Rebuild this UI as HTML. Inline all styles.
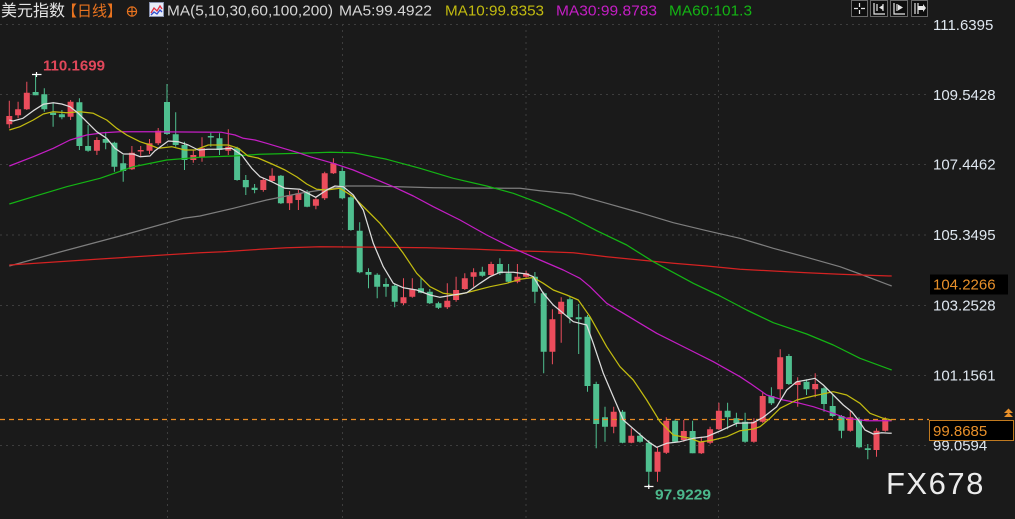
<!DOCTYPE html>
<html><head><meta charset="utf-8"><style>
html,body{margin:0;padding:0;background:#1a1a1a;width:1015px;height:519px;overflow:hidden}
svg{display:block}
text{font-family:"Liberation Sans","Noto Sans CJK SC",sans-serif}
</style></head><body>
<svg width="1015" height="519" viewBox="0 0 1015 519" xmlns="http://www.w3.org/2000/svg">
<rect width="1015" height="519" fill="#1a1a1a"/>
<!-- grid -->
<g stroke="#3d3d3d" stroke-width="1" stroke-dasharray="2,4" fill="none">
<path d="M0 24.5H928M0 94.5H928M0 164.5H928M0 235H928M0 305.5H928M0 375.5H928M0 445.5H928"/>
<path d="M167.5 24V519M342.5 24V519M526 24V519M718.5 24V519"/>
</g>
<!-- red candles -->
<g stroke="#eb4d5c" stroke-width="1" fill="none">
<path d="M9.3 100.7V128.3M18.1 101.7V118.3M26.8 81.7V110M70.6 100V120M96.9 137.3V155M131.9 146V170M140.7 146V156M149.5 139V154M158.2 128V145M193.3 150V162.7M202 137.3V161.7M228.3 129.3V155M263.3 178V191.7M272.1 168.3V181.7M289.6 191V210M298.4 190V210M315.9 196.7V209.3M324.7 171.7V200M333.4 158.3V174M403.5 278.3V305M412.3 278.3V297.7M447.3 283.3V309M456.1 276.7V301.7M464.8 273.3V290M473.6 268.3V286.7M491.1 261.7V275.7M517.4 264V283.3M526.1 270.7V277.7M552.4 309.3V364.3M561.2 297.3V342.7M613.7 406.7V433.3M631.3 428.3V443.3M657.5 446.7V481.7M666.3 417.3V454M683.8 420V441.7M701.3 436.7V454M710.1 426.7V444.3M718.9 402.7V430M753.9 418.3V442.7M762.7 391.7V422.7M780.2 349.3V398.3M797.7 377.3V406.7M815.2 373.3V397.3M850.3 410.7V431.7M876.5 428.3V456.7M885.3 417.3V431.7"/>
</g>
<path fill="#eb4d5c" d="M6.3 116h6v8.3h-6zM15.1 109.3h6v6h-6zM23.8 92.7h6v16.6h-6zM67.6 101.7h6v15h-6zM93.9 140h6v10.7h-6zM128.9 152.7h6v16.6h-6zM137.7 150h6v1.5h-6zM146.5 143.3h6v7.4h-6zM155.2 130.7h6v12.6h-6zM190.3 155h6v5h-6zM199 148.3h6v9h-6zM225.3 146.7h6v4h-6zM260.3 180h6v10h-6zM269.1 175.7h6v5.3h-6zM286.6 195h6v8.3h-6zM295.4 193.3h6v6.7h-6zM312.9 199.3h6v6.4h-6zM321.7 173.3h6v25h-6zM330.4 163.3h6v10h-6zM400.5 297.3h6v6h-6zM409.3 289h6v7.7h-6zM444.3 300.7h6v6.6h-6zM453.1 290h6v10h-6zM461.8 278.3h6v10.7h-6zM470.6 272.3h6v4.4h-6zM488.1 264h6v11h-6zM514.4 276.7h6v5h-6zM523.1 273.3h6v3.4h-6zM549.4 319.3h6v32.4h-6zM558.2 301.7h6v12.3h-6zM610.7 411.7h6v15h-6zM628.3 435.7h6v7h-6zM654.5 451.7h6v20h-6zM663.3 420.7h6v32h-6zM680.8 431h6v9h-6zM698.3 441.7h6v11.6h-6zM707.1 429.3h6v13.4h-6zM715.9 410.7h6v18.6h-6zM750.9 421.7h6v20h-6zM759.7 396h6v25.7h-6zM777.2 357.3h6v32h-6zM794.7 381.7h6v3.3h-6zM812.2 384h6v5.3h-6zM847.3 417.3h6v13.4h-6zM873.5 430.7h6v19.3h-6zM882.3 420.7h6v10h-6z"/>
<!-- green candles -->
<g stroke="#4fbf8f" stroke-width="1" fill="none">
<path d="M35.6 74V95.3M44.3 88.3V111.7M53.1 103V126.7M61.9 110V119.3M79.4 98.3V150M88.1 125V151.7M105.7 131.7V149.3M114.4 141.7V171.7M123.2 155V181.7M167 84V135M175.7 112.3V146.7M184.5 141.7V170M210.8 132.7V146.7M219.5 133.3V155M237.1 146.7V180.7M245.8 175V195M254.6 184V193.3M280.9 175V204M307.1 190V207.3M342.2 167.3V199M350.9 195V230.7M359.7 222.3V273.3M368.5 268.3V288.3M377.2 273.3V298.3M386 278.3V296.7M394.7 283.3V307.3M421 278.3V293.3M429.8 289V304M438.5 301.7V309M482.3 266.7V276.7M499.9 258.3V275M508.6 264V283.3M534.9 272V303.3M543.7 291.7V373.3M569.9 297.3V323.3M578.7 304V354M587.5 315V391.7M596.2 381.7V448.3M605 406.7V441.7M622.5 410V443.3M640 432.7V442.7M648.8 440V486.7M675.1 419.3V442.7M692.6 420.7V453.3M727.6 402.7V429.3M736.4 412.7V426.7M745.1 412.7V442.7M771.4 387.3V405M788.9 354V385M806.5 379.3V395M824 387.3V411.7M832.7 395V417.3M841.5 415V438.3M859 417.3V448.3M867.8 444V459.3"/>
</g>
<path fill="#4fbf8f" d="M32.6 92h6v3.3h-6zM41.3 94.3h6v15h-6zM50.1 112.7h6v2.3h-6zM58.9 114.3h6v3h-6zM76.4 102.3h6v43.7h-6zM85.1 146h6v4.7h-6zM102.7 139h6v3.7h-6zM111.4 142.7h6v24h-6zM120.2 163.3h6v7.7h-6zM164 102h6v32h-6zM172.7 134.3h6v10.7h-6zM181.5 145h6v15h-6zM207.8 136h6v1.5h-6zM216.5 138.3h6v11.7h-6zM234.1 148.3h6v31.7h-6zM242.8 180h6v7.3h-6zM251.6 187.7h6v2.3h-6zM277.9 175.7h6v27.6h-6zM304.1 191.7h6v15h-6zM339.2 171h6v27.3h-6zM347.9 197.3h6v32.7h-6zM356.7 230.7h6v41.6h-6zM365.5 272h6v2.7h-6zM374.2 274.7h6v12h-6zM383 284h6v2.7h-6zM391.7 285.7h6v16h-6zM418 288.3h6v4.4h-6zM426.8 291.7h6v11.6h-6zM435.5 303.3h6v4.4h-6zM479.3 271.7h6v4h-6zM496.9 264h6v9.3h-6zM505.6 273.3h6v8.4h-6zM531.9 276.7h6v15h-6zM540.7 293.3h6v58.4h-6zM566.9 299.3h6v18h-6zM575.7 317.3h6v2h-6zM584.5 316.7h6v69.3h-6zM593.2 384h6v40h-6zM602 417.3h6v9.4h-6zM619.5 411.7h6v31h-6zM637 435.7h6v6h-6zM645.8 442.7h6v29h-6zM672.1 420.7h6v21h-6zM689.6 431h6v22.3h-6zM724.6 410.7h6v6.6h-6zM733.4 418.3h6v5h-6zM742.1 421.7h6v20h-6zM768.4 396h6v7.3h-6zM785.9 356h6v28h-6zM803.5 381.7h6v7.6h-6zM821 388.3h6v15.7h-6zM829.7 406h6v10h-6zM838.5 416h6v14.7h-6zM856 419.3h6v28h-6zM864.8 448.3h6v1.7h-6z"/>
<!-- hi/lo markers -->
<path stroke="#ffffff" stroke-width="1.2" fill="none" d="M32 74.5H41.5M36.5 72V77M644.3 486.5H653.5M648.8 484.5V489"/>
<!-- current price dashed line -->
<path d="M0 419.5H929" stroke="#e88a22" stroke-width="1.2" stroke-dasharray="5,4" fill="none"/>
<!-- MA lines -->
<g fill="none" stroke-width="1.25" stroke-linejoin="round">
<polyline stroke="#7e7e7e" points="9.3,266 60,252 120,236 183.3,218.3 200,216 233.3,208.3 266.7,200 300,193.3 326.7,189.3 346.7,186 373.3,186 433.3,187.7 520,188.3 540,190.7 573.3,194 606.7,203.3 640,212.7 673.3,222.7 706.7,230.7 740,238.3 773.3,248.3 806.7,257.3 840,266.7 860,274 891.7,286"/>
<polyline stroke="#d42222" points="9.3,265 100,259 200,252.7 223.3,251.7 260,249.3 286.7,247.7 320,246.7 426.7,247.7 476.7,249.3 520,251 540,251.5 573.3,252.7 606.7,256.7 640,260 673.3,263.3 706.7,266 740,269.3 773.3,271 806.7,272.7 840,274.3 891.7,276"/>
<polyline stroke="#14b414" points="9.3,204 33.3,196.7 66.7,186.7 100,178.3 133.3,166.7 166.7,160 200,157.3 233.3,156 260,154.3 300,153.3 330,152.3 353.3,152.7 386.7,159.3 420,168.3 453.3,178.3 486.7,186 513.3,193.3 540,203.3 566.7,215 596.7,230.7 626.7,245 653.3,261.7 693.3,283.3 720,296 746.7,310 773.3,322.7 806.7,334 833.3,345 860,358.3 891.7,370"/>
<polyline stroke="#c41ec4" points="9.3,166 33.3,156.7 53.3,148.3 70,140 86.7,135 103.3,132.7 120,131.7 150,131.7 221.7,132.3 235,135 243.3,138.3 255,140 266.7,143.3 286.7,149.3 298.3,152.7 310,156.7 333.3,163.3 353.3,170 373.3,178.3 393.3,186.7 413.3,196 433.3,206.7 460,220 486.7,235 513.3,248.3 540,260 563.3,270 573.3,275 580,278.3 590,286.7 606.7,303.3 640,323.3 656.7,333.3 690,350 713.3,361.7 740,376.7 750,383.3 766.7,395 783.3,400 800,403.3 813.3,406.7 833.3,413.3 846.7,418.3 866.7,420.7 891.7,420.7"/>
<polyline stroke="#c2bb10" points="9.3,130 20,126.7 33.3,120 43.3,114 53.3,111.7 66.7,112.7 80,111.7 93.3,113.3 106.7,120 116.7,128.3 126.7,135 140,141.7 150,145 158.3,148.3 171.7,146.7 185,150 195,150 208.3,145 228.3,145 238.3,148.3 248,156 258,158 272,164 285,170 297,177 306.7,184 316.7,189.3 326.7,190 340,188.3 353.3,196.7 366.7,210 380,223.3 393.3,240 403.3,253.3 416.7,273.3 430,286.7 443.3,293.3 456.7,295 473.3,291 490,286.7 506.7,283.3 520,279.3 533.3,277.5 543.3,283.3 553.3,290 566.7,295 578.3,300 590,316.7 606.7,346.7 620,366.7 633.3,380 646.7,400 660,421.7 673.3,435 690,438.3 700,442 713.3,440 726.7,436.7 740,430.7 753.3,429 760,426.7 770,418.3 780,408.3 796.7,400 813.3,396 833.3,391.7 846.7,395 860,403.3 870,413.3 883.3,418.3 891.7,420"/>
<polyline stroke="#dcdcdc" points="9.3,120 13,121 23,118.3 33.3,110.7 43.3,104.3 53.3,102.7 61.7,104 70,106.7 78.3,113.3 88.3,123.3 96.7,131.7 106.7,138.3 115,148.3 123.3,154 133.3,154 140,156.7 150,156 155,150.7 168.3,141 178.3,141.7 188.3,145 198.3,150 208.3,149.3 218.3,149.3 231.7,148.3 241.7,155 251.7,168.3 260,176.7 271.7,181.7 285,188.3 300,189.3 306.7,192.7 315.7,197.3 326.7,190 335,186 343.3,186.7 353.3,195 363.3,210 373.3,243.3 383.3,266.7 393.3,283.3 403.3,287.7 416.7,290 430,295 440,297.3 453.3,295 466.7,292.7 480,283.3 490,276.7 500,272.3 513.3,272.3 526.7,274 533.3,276.7 543.3,293.3 553.3,305 563.3,313.3 573.3,321.7 586.7,325 593.3,343.3 603.3,373.3 613.3,396.7 623.3,420 636.7,431.7 648.3,441.7 656.7,447.3 666.7,443.3 680,441.7 693.3,438.3 706.7,436.7 720,431 736.7,423.3 753.3,422.7 763.3,417.3 776.7,406.7 786.7,390 796.7,381.7 806.7,380 815,378.3 823.3,385 833.3,395 843.3,405 851.7,411.7 858.3,420 865,430 873.3,434 881.7,432.7 891.7,433.3"/>
</g>
<!-- hi/lo labels -->
<text x="43" y="70.5" font-size="15" font-weight="bold" fill="#e0475a" textLength="62" lengthAdjust="spacingAndGlyphs">110.1699</text>
<text x="655" y="499.5" font-size="15" font-weight="bold" fill="#4cb88c" textLength="56" lengthAdjust="spacingAndGlyphs">97.9229</text>
<!-- axis labels -->
<g font-size="15" fill="#dfe7f0">
<text x="933" y="30">111.6395</text>
<text x="933" y="100">109.5428</text>
<text x="933" y="169.5">107.4462</text>
<text x="933" y="240">105.3495</text>
<text x="933" y="310.5">103.2528</text>
<text x="933" y="380.5">101.1561</text>
<text x="933" y="450.5">99.0594</text>
</g>
<rect x="930" y="274.5" width="78" height="20" fill="#000"/>
<text x="933" y="289.5" font-size="15" fill="#e8902a">104.2266</text>
<rect x="929.5" y="420.5" width="84" height="20" fill="#000" stroke="#c07a20" stroke-width="1"/>
<text x="933" y="436" font-size="15" fill="#e8902a">99.8685</text>
<path fill="#e8902a" d="M1008.5 408.5L1004 413H1013ZM1008.5 412.5L1004 417H1013Z"/>
<!-- header -->
<text x="1" y="16" font-size="16" fill="#e4e4e4">美元指数</text>
<text x="62" y="16" font-size="15" fill="#e8731f">【日线】</text>
<g stroke="#e8731f" stroke-width="1.2" fill="none"><circle cx="132" cy="11.5" r="4.6"/><path d="M127.4 11.5H136.6M132 6.9V16.1"/></g>
<rect x="149.5" y="2.5" width="14" height="14" fill="#e6ecf8" stroke="#8a94b0" stroke-width="1"/>
<polyline points="151,13 154,8 157,11 160,6 162,9" fill="none" stroke="#e03040" stroke-width="1.3"/>
<polyline points="151,15 154,12 157,14 160,10 162,12" fill="none" stroke="#3050d0" stroke-width="1.3"/>
<text x="167" y="15.5" font-size="15" fill="#d6d6d6" textLength="166" lengthAdjust="spacingAndGlyphs">MA(5,10,30,60,100,200)</text>
<text x="339" y="15.5" font-size="15" fill="#d6d6d6" textLength="93" lengthAdjust="spacingAndGlyphs">MA5:99.4922</text>
<text x="445" y="15.5" font-size="15" fill="#c2bb10" textLength="99" lengthAdjust="spacingAndGlyphs">MA10:99.8353</text>
<text x="556" y="15.5" font-size="15" fill="#c41ec4" textLength="101" lengthAdjust="spacingAndGlyphs">MA30:99.8783</text>
<text x="669" y="15.5" font-size="15" fill="#14b414" textLength="83" lengthAdjust="spacingAndGlyphs">MA60:101.3</text>
<!-- top-right tool icons -->
<g fill="#0e0e0e" stroke="#6a6a6a" stroke-width="1">
<rect x="851.5" y="0.5" width="16" height="16"/>
<rect x="870.5" y="0.5" width="17" height="16"/>
<rect x="890.5" y="0.5" width="17" height="16"/>
<rect x="911.5" y="0.5" width="16" height="16"/>
</g>
<g stroke="#e6e6e6" stroke-width="1.2" fill="none">
<path d="M859.5 3V7M859.5 10V14M854 8.5H858M861 8.5H865"/>
<path d="M874 3V14H885M877 4V11M883 4V11"/>
<path d="M894 3V14H905M897 4V11"/>
<path d="M915 3V14M918 3V14"/>
</g>
<path fill="#e6e6e6" d="M883 5L879 7.5L883 10ZM898 4.5L903 7.5L898 10.5ZM918 6H923V4L926 8L923 12V10H918Z"/>
<!-- watermark -->
<text x="886" y="494" font-size="31" fill="#ececec" letter-spacing="1.5">FX678</text>
</svg>
</body></html>
